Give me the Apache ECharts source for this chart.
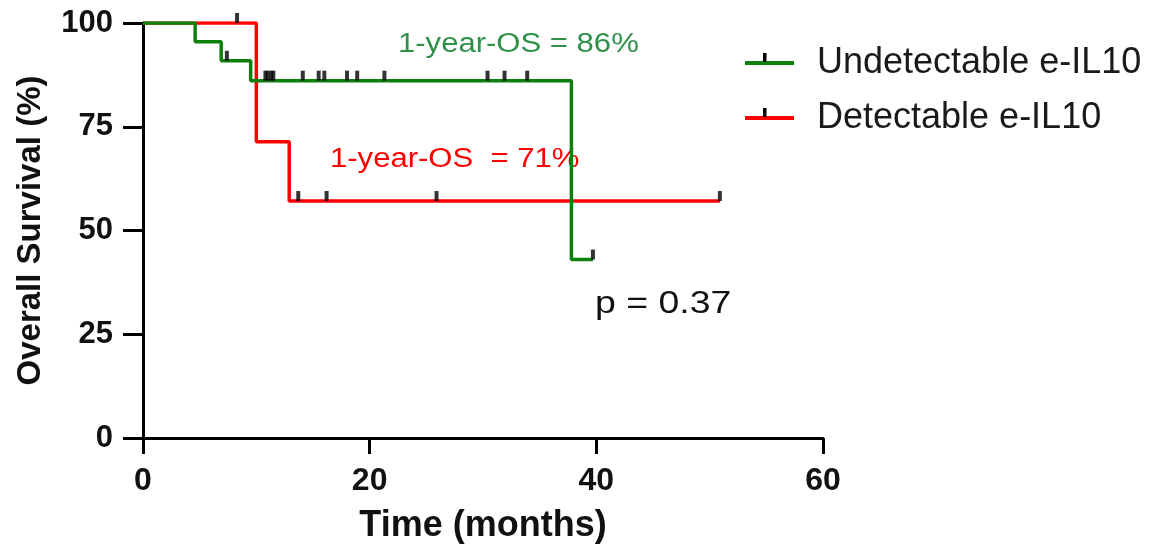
<!DOCTYPE html>
<html>
<head>
<meta charset="utf-8">
<script src="https://cdn.jsdelivr.net/npm/echarts@6/dist/echarts.min.js"></script>
<style>html,body{margin:0;padding:0;background:#fff;}#c{width:1162px;height:549px;}</style>
</head>
<body>
<div id="c"></div>
<script>
// Kaplan–Meier steps (time in months, survival %)
const greenName = 'Undetectable e-IL10';
const greenTime = [0, 4.6, 6.9, 9.5, 37.8, 39.7];
const greenSurv = [100, 95.5, 90.9, 86.1, 43.0, 43.0];
const greenCensorTime = [7.4, 10.8, 11.0, 11.3, 11.5, 14.1, 15.5, 16.0, 18.0, 18.9, 21.3, 30.4, 31.9, 33.9, 39.7];
const greenCensorSurv = [90.9, 86.1, 86.1, 86.1, 86.1, 86.1, 86.1, 86.1, 86.1, 86.1, 86.1, 86.1, 86.1, 86.1, 43.0];

const redName = 'Detectable e-IL10';
const redTime = [0, 10.0, 12.9, 50.9];
const redSurv = [100, 71.4, 57.1, 57.1];
const redCensorTime = [8.3, 13.7, 16.2, 25.9, 50.9];
const redCensorSurv = [100, 57.1, 57.1, 57.1, 57.1];

const xTicks = [0, 20, 40, 60];
const yTicks = [0, 25, 50, 75, 100];
const xTitle = 'Time (months)';
const yTitle = 'Overall Survival (%)';

const greenNote = '1-year-OS = 86%';
const redNote = '1-year-OS  = 71%';
const pNote = 'p = 0.37';

const GREEN = '#0b800b', RED = '#ff0000';
const FONT = '"Liberation Sans", Arial, sans-serif';

const zip = (a, b) => a.map((v, i) => [v, b[i]]);

const chart = echarts.init(document.getElementById('c'));
chart.setOption({
  animation: false,
  backgroundColor: '#ffffff',
  grid: { left: 143, right: 339, top: 23, bottom: 111 },
  xAxis: {
    type: 'value', min: xTicks[0], max: xTicks[xTicks.length - 1], interval: 20,
    name: xTitle, nameLocation: 'middle', nameGap: 70,
    nameTextStyle: { fontSize: 36, fontWeight: 'bold', color: '#111', fontFamily: FONT },
    axisLine: { lineStyle: { color: '#000', width: 3 } },
    axisTick: { length: 16, lineStyle: { color: '#000', width: 3 } },
    axisLabel: { margin: 27, color: '#111', fontSize: 32, fontWeight: 'bold', fontFamily: FONT },
    splitLine: { show: false }
  },
  yAxis: {
    type: 'value', min: yTicks[0], max: yTicks[yTicks.length - 1], interval: 25,
    name: yTitle, nameLocation: 'middle', nameGap: 96,
    nameTextStyle: { fontSize: 33, fontWeight: 'bold', color: '#111', fontFamily: FONT },
    axisLine: { show: true, lineStyle: { color: '#000', width: 3 } },
    axisTick: { show: true, length: 20, lineStyle: { color: '#000', width: 3 } },
    axisLabel: { margin: 30, color: '#111', fontSize: 31, fontWeight: 'bold', fontFamily: FONT },
    splitLine: { show: false }
  },
  legend: {
    orient: 'vertical', left: 740, top: 40, itemGap: 19,
    itemWidth: 49, itemHeight: 4,
    icon: 'path://M0,0 L49,0 L49,4 L0,4 Z',
    textStyle: { fontSize: 36, color: '#1a1a1a', fontFamily: FONT, padding: [0, 0, 0, 18] },
    data: [greenName, redName]
  },
  series: [
    { name: redName, type: 'line', step: 'end', data: zip(redTime, redSurv), symbol: 'none',
      lineStyle: { color: RED, width: 3.5 }, itemStyle: { color: RED }, z: 2 },
    { name: greenName, type: 'line', step: 'end', data: zip(greenTime, greenSurv), symbol: 'none',
      lineStyle: { color: GREEN, width: 3.5 }, itemStyle: { color: GREEN }, z: 3 },
    { name: 'redCensor', type: 'scatter', data: zip(redCensorTime, redCensorSurv),
      symbol: 'rect', symbolSize: [4, 10], symbolOffset: [0, -5], itemStyle: { color: '#000' }, z: 5 },
    { name: 'greenCensor', type: 'scatter', data: zip(greenCensorTime, greenCensorSurv),
      symbol: 'rect', symbolSize: [4, 10], symbolOffset: [0, -5], itemStyle: { color: '#000' }, z: 5 }
  ],
  graphic: [
    { id: 'noteGreen', type: 'text', x: 398, y: 31, scaleX: 1.15,
      style: { text: greenNote, font: '27px ' + FONT, fill: '#2e9148', verticalAlign: 'top' } },
    { id: 'noteRed', type: 'text', x: 330, y: 146, scaleX: 1.15,
      style: { text: redNote, font: '27px ' + FONT, fill: RED, verticalAlign: 'top' } },
    { id: 'noteP', type: 'text', x: 595, y: 288, scaleX: 1.17,
      style: { text: pNote, font: '32px ' + FONT, fill: '#111', verticalAlign: 'top' } },
    { id: 'legTick1', type: 'rect', z: 100, shape: { x: 763, y: 53, width: 3.5, height: 9 }, style: { fill: '#000' } },
    { id: 'legTick2', type: 'rect', z: 100, shape: { x: 763, y: 108, width: 3.5, height: 9 }, style: { fill: '#000' } }
  ]
});
</script>
</body>
</html>
